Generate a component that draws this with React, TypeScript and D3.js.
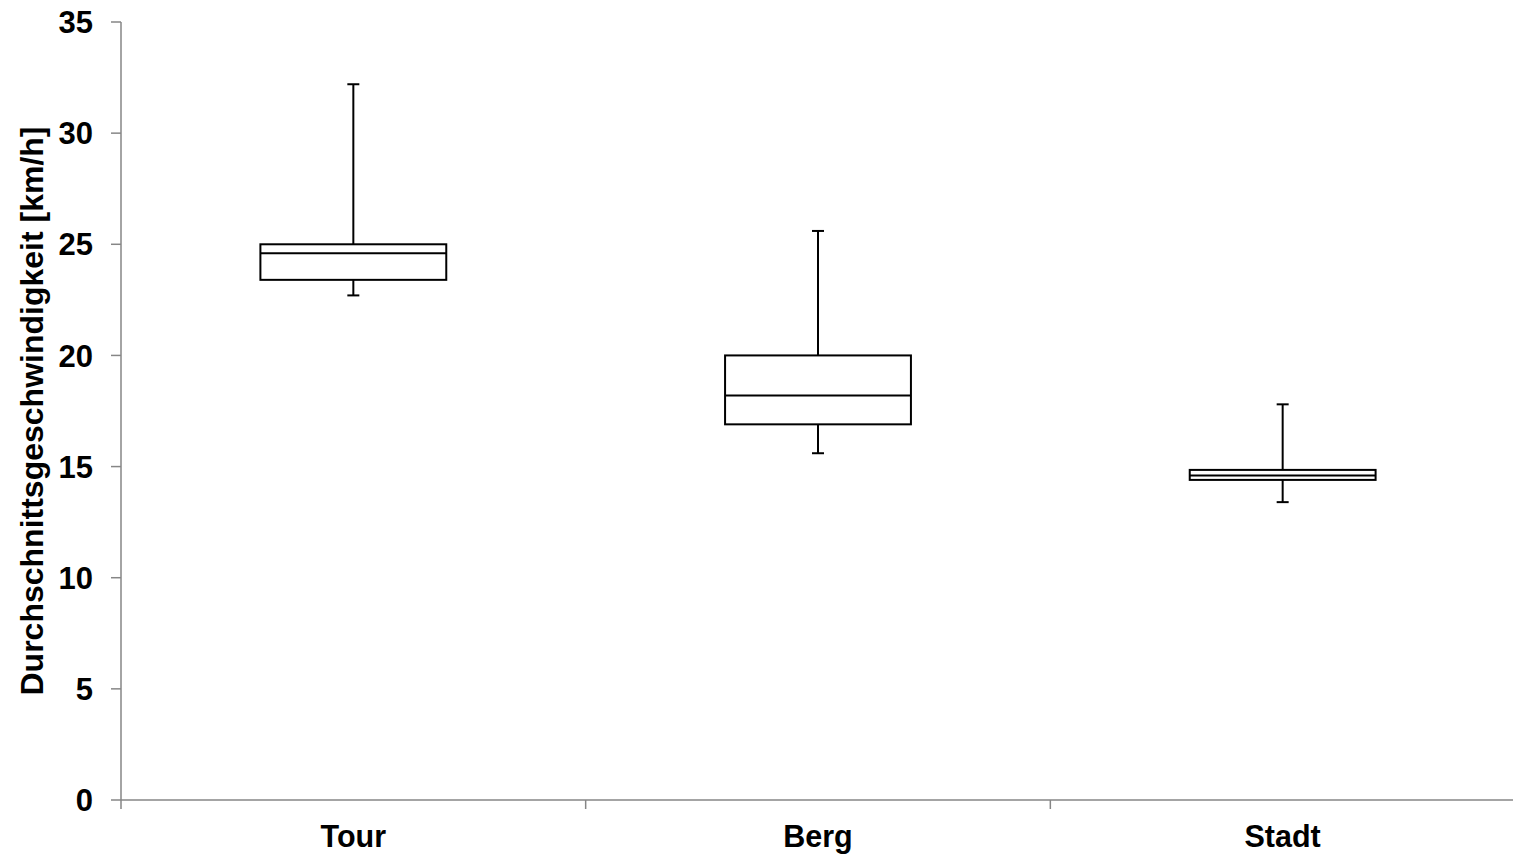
import React from "react";
import * as d3 from "d3";

const categories = ["Tour", "Berg", "Stadt"];
const whiskerLow = [22.7, 15.6, 13.4];
const q1 = [23.4, 16.9, 14.4];
const median = [24.6, 18.2, 14.6];
const q3 = [25.0, 20.0, 14.85];
const whiskerHigh = [32.2, 25.6, 17.8];
const yTicks = [0, 5, 10, 15, 20, 25, 30, 35];
const yLabel = "Durchschnittsgeschwindigkeit [km/h]";

const W = 1513;
const H = 856;
const left = 121;
const right = 1515;
const top = 22;
const bottom = 800;

export default function App() {
  const x = d3.scaleBand<string>().domain(categories).range([left, right]).padding(0);
  const y = d3.scaleLinear().domain([0, 35]).range([bottom, top]);
  const bw = x.bandwidth() * 0.4;
  const capW = 12;
  const axisColor = "#868686";
  const font = "'Liberation Sans', Arial, sans-serif";
  const bandEdges = [...categories.map((c) => x(c)!), right];

  return (
    <svg
      width={W}
      height={H}
      style={{ position: "absolute", left: 0, top: 0, background: "#fff" }}
    >
      {/* y axis */}
      <line x1={left} x2={left} y1={top} y2={bottom} stroke={axisColor} strokeWidth={1.5} />
      {yTicks.map((t) => (
        <g key={t}>
          <line x1={left - 10} x2={left} y1={y(t)} y2={y(t)} stroke={axisColor} strokeWidth={1.5} />
          <text
            x={93}
            y={y(t)}
            dy="0.36em"
            textAnchor="end"
            fontFamily={font}
            fontWeight="bold"
            fontSize={31}
            fill="#000"
          >
            {t}
          </text>
        </g>
      ))}
      {/* x axis */}
      <line x1={left} x2={W} y1={bottom} y2={bottom} stroke={axisColor} strokeWidth={1.5} />
      {bandEdges.map((e, i) => (
        <line key={i} x1={e} x2={e} y1={bottom} y2={bottom + 9} stroke={axisColor} strokeWidth={1.5} />
      ))}
      {categories.map((c) => (
        <text
          key={c}
          x={x(c)! + x.bandwidth() / 2}
          y={847}
          textAnchor="middle"
          fontFamily={font}
          fontWeight="bold"
          fontSize={30.5}
          fill="#000"
        >
          {c}
        </text>
      ))}
      {/* y label */}
      <text
        transform={`translate(43, ${(top + bottom) / 2}) rotate(-90)`}
        textAnchor="middle"
        fontFamily={font}
        fontWeight="bold"
        fontSize={32}
        fill="#000"
      >
        {yLabel}
      </text>
      {/* boxes */}
      {categories.map((c, i) => {
        const cx = x(c)! + x.bandwidth() / 2;
        return (
          <g key={c} stroke="#000" strokeWidth={2} fill="none">
            <line x1={cx} x2={cx} y1={y(whiskerHigh[i])} y2={y(q3[i])} />
            <line x1={cx} x2={cx} y1={y(q1[i])} y2={y(whiskerLow[i])} />
            <line x1={cx - capW / 2} x2={cx + capW / 2} y1={y(whiskerHigh[i])} y2={y(whiskerHigh[i])} />
            <line x1={cx - capW / 2} x2={cx + capW / 2} y1={y(whiskerLow[i])} y2={y(whiskerLow[i])} />
            <rect
              x={cx - bw / 2}
              y={y(q3[i])}
              width={bw}
              height={y(q1[i]) - y(q3[i])}
              fill="#fff"
            />
            <line x1={cx - bw / 2} x2={cx + bw / 2} y1={y(median[i])} y2={y(median[i])} />
          </g>
        );
      })}
    </svg>
  );
}
